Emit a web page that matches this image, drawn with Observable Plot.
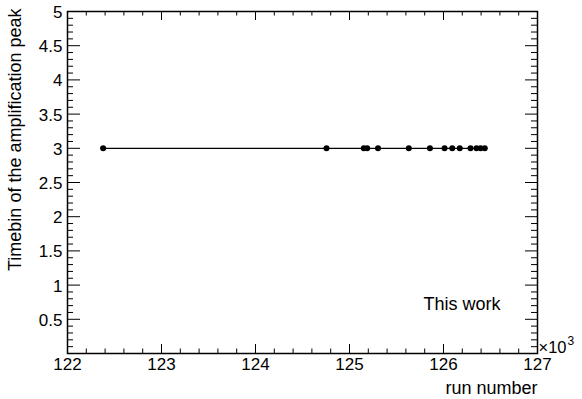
<!DOCTYPE html>
<html>
<head>
<meta charset="utf-8">
<script src="https://cdn.jsdelivr.net/npm/d3@7"></script>
<script src="https://cdn.jsdelivr.net/npm/@observablehq/plot@0.6"></script>
<style>
  html, body { margin: 0; padding: 0; background: #fff; }
</style>
</head>
<body>
<div id="chart"></div>
<script>
// Data
const runNumbers = [122379, 124755, 125152, 125188, 125303, 125631, 125856, 126011, 126093, 126173, 126287, 126351, 126394, 126439];
const timebins   = [3, 3, 3, 3, 3, 3, 3, 3, 3, 3, 3, 3, 3, 3];

const xTickValues = [122000, 123000, 124000, 125000, 126000, 127000];
const xTickLabels = ["122", "123", "124", "125", "126", "127"];
const yTickValues = [0.5, 1, 1.5, 2, 2.5, 3, 3.5, 4, 4.5, 5];
const yTickLabels = ["0.5", "1", "1.5", "2", "2.5", "3", "3.5", "4", "4.5", "5"];

const xTitle = "run number";
const yTitle = "Timebin of the amplification peak";
const annotation = "This work";

const points = runNumbers.map((r, i) => ({run: r, bin: timebins[i]}));

const W = 582, H = 399;
const mL = 67, mR = 45, mT = 11, mB = 46;
const PW = W - mL - mR, PH = H - mT - mB;

const xMinor = d3.range(122000, 127001, 200).filter(v => !xTickValues.includes(v));
const yMinor = d3.range(1, 50).map(v => v / 10).filter(v => !yTickValues.includes(v));

const xTicks = xTickValues.map((v, i) => ({v, label: xTickLabels[i]}));
const yTicks = yTickValues.map((v, i) => ({v, label: yTickLabels[i]}));

const font = "'Liberation Sans', Arial, sans-serif";

const chart = Plot.plot({
  width: W, height: H,
  marginLeft: mL, marginRight: mR, marginTop: mT, marginBottom: mB,
  x: {domain: [122000, 127000], axis: null},
  y: {domain: [0, 5], axis: null},
  style: {fontFamily: font, background: "#fff", color: "black"},
  marks: [
    // ticks: left
    Plot.tickY(yTickValues, {y: d => d, insetRight: PW - 13, stroke: "black", strokeWidth: 1}),
    Plot.tickY(yMinor, {y: d => d, insetRight: PW - 6, stroke: "black", strokeWidth: 1}),
    // right
    Plot.tickY(yTickValues, {y: d => d, insetLeft: PW - 12, stroke: "black", strokeWidth: 1}),
    Plot.tickY(yMinor, {y: d => d, insetLeft: PW - 6, stroke: "black", strokeWidth: 1}),
    // bottom
    Plot.tickX(xTickValues, {x: d => d, insetTop: PH - 9, stroke: "black", strokeWidth: 1}),
    Plot.tickX(xMinor, {x: d => d, insetTop: PH - 4.5, stroke: "black", strokeWidth: 1}),
    // top
    Plot.tickX(xTickValues, {x: d => d, insetBottom: PH - 9, stroke: "black", strokeWidth: 1}),
    Plot.tickX(xMinor, {x: d => d, insetBottom: PH - 4.5, stroke: "black", strokeWidth: 1}),
    Plot.frame({stroke: "black", strokeWidth: 1.5}),
    // data
    Plot.line(points, {x: "run", y: "bin", stroke: "black", strokeWidth: 1.3}),
    Plot.dot(points, {x: "run", y: "bin", r: 3, fill: "black", stroke: "none"}),
    // tick labels
    Plot.text(yTicks, {y: "v", text: "label", frameAnchor: "left", lineAnchor: "middle", dx: -5, dy: 1, textAnchor: "end", fontSize: 17, fill: "black"}),
    Plot.text(xTicks, {x: "v", text: "label", frameAnchor: "bottom", lineAnchor: "middle", dy: 11, fontSize: 17, fill: "black"}),
    // exponent
    Plot.text(["×10"], {frameAnchor: "bottom-right", lineAnchor: "middle", dx: 1, dy: -5.4, textAnchor: "start", fontSize: 16.5, fill: "black"}),
    Plot.text(["3"], {frameAnchor: "bottom-right", lineAnchor: "middle", dx: 30, dy: -12, textAnchor: "start", fontSize: 12, fill: "black"}),
    // titles
    Plot.text([xTitle], {frameAnchor: "bottom-right", lineAnchor: "middle", dy: 35, textAnchor: "end", fontSize: 18, fill: "black"}),
    Plot.text([yTitle], {frameAnchor: "top-left", lineAnchor: "middle", dx: -52, dy: -3, rotate: -90, textAnchor: "end", fontSize: 18, fill: "black"}),
    // annotation
    Plot.text([annotation], {frameAnchor: "bottom-left", lineAnchor: "middle", dx: 356, dy: -49.5, textAnchor: "start", fontSize: 18, fill: "black"})
  ]
});

document.getElementById("chart").appendChild(chart);
</script>
</body>
</html>
